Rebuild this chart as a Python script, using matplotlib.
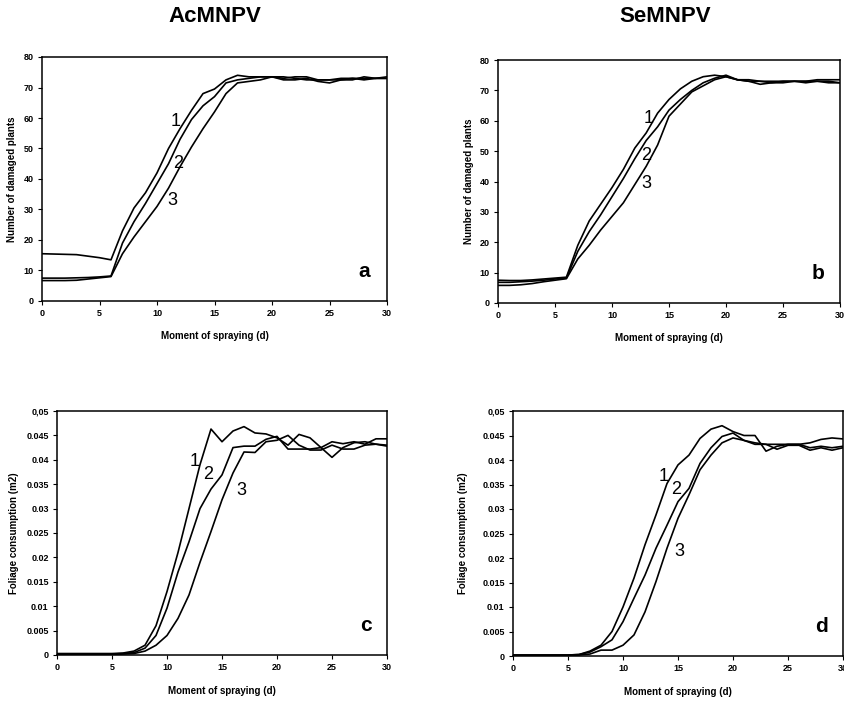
import matplotlib
matplotlib.use("Agg")
import matplotlib.pyplot as plt

plt.rcParams['font.family'] = ['Liberation Sans', 'DejaVu Sans']

# moment of spraying (days)
days = list(range(31))

# a: AcMNPV, number of damaged plants
a1 = [15.5, 15.4, 15.3, 15.2, 14.7, 14.2, 13.5, 23, 30.5, 35.5, 42, 50, 56.5, 62.5, 68, 69.5,
      72.5, 74, 73.5, 73.5, 73.5, 73, 73.5, 73.5, 72.5, 72.5, 73, 73, 73, 73, 73.5]
a2 = [7.5, 7.5, 7.5, 7.6, 7.7, 7.9, 8.2, 19, 26, 32, 38.5, 45, 53, 59.5, 64, 67,
      71.5, 72.5, 73, 73.5, 73.5, 72.5, 72.5, 73, 72, 71.5, 72.5, 73, 72.5, 73, 73]
a3 = [6.7, 6.7, 6.7, 6.8, 7.2, 7.6, 8.0, 15.5, 21, 26, 31, 37, 44, 50.5, 56.5, 62,
      68, 71.5, 72, 72.5, 73.5, 73.5, 73, 72.5, 72.5, 72.5, 72.5, 72.5, 73.5, 73, 73]

# b: SeMNPV, number of damaged plants
b1 = [7.5, 7.4, 7.4, 7.6, 7.9, 8.2, 8.5, 19, 27, 32.5, 38, 44, 51, 56, 62.5, 67,
      70.5, 73, 74.5, 75, 74.5, 73.5, 73.5, 73, 73, 73, 73, 73, 73.5, 73.5, 73.5]
b2 = [6.8, 6.8, 7.0, 7.2, 7.5, 7.9, 8.2, 17, 23.5, 29, 35, 41, 47.5, 53.5, 58, 63.5,
      67, 70, 72.5, 74, 75, 73.5, 73, 72, 72.5, 72.5, 73, 72.5, 73, 72.5, 72.5]
b3 = [5.8, 5.8, 6.0, 6.4, 7.0, 7.5, 8.0, 14.5, 19, 24, 28.5, 33, 39, 45, 52, 61.5,
      65.5, 69.5, 71.5, 73.5, 74.5, 73.5, 73, 73, 72.5, 73, 73, 73, 73, 73, 72.5]

# c: AcMNPV, foliage consumption (m2)
c1 = [0.0003, 0.0003, 0.0003, 0.0003, 0.0003, 0.0003, 0.0004, 0.0008, 0.002, 0.006, 0.013,
      0.021, 0.030, 0.039, 0.0463, 0.0437, 0.0459, 0.0468, 0.0455, 0.0453, 0.0445,
      0.0430, 0.0452, 0.0445, 0.0425, 0.0405, 0.0425, 0.0435, 0.0437, 0.0432, 0.0428]
c2 = [0.0002, 0.0002, 0.0002, 0.0002, 0.0002, 0.0002, 0.0003, 0.0005, 0.0014, 0.004, 0.0096,
      0.017, 0.0232, 0.030, 0.034, 0.0369, 0.0425, 0.0428, 0.0428, 0.0442, 0.0448,
      0.0422, 0.0422, 0.0422, 0.0425, 0.0437, 0.0433, 0.0437, 0.0432, 0.0443, 0.0443]
c3 = [0.0001, 0.0001, 0.0001, 0.0001, 0.0001, 0.0001, 0.0002, 0.0003, 0.0008, 0.002, 0.004,
      0.0075, 0.0123, 0.019, 0.0253, 0.0318, 0.0373, 0.0416, 0.0415, 0.0437, 0.044,
      0.045, 0.043, 0.042, 0.042, 0.043, 0.0422, 0.0422, 0.043, 0.0432, 0.043]

# d: SeMNPV, foliage consumption (m2)
d1 = [0.0002, 0.0002, 0.0002, 0.0002, 0.0002, 0.0002, 0.0003, 0.001, 0.0022, 0.005, 0.010,
      0.0159, 0.0227, 0.0288, 0.0352, 0.039, 0.041, 0.0444, 0.0463, 0.047, 0.0458,
      0.045, 0.045, 0.0418, 0.0428, 0.0432, 0.0432, 0.0425, 0.0428, 0.0425, 0.0428]
d2 = [0.0002, 0.0002, 0.0002, 0.0002, 0.0002, 0.0002, 0.0003, 0.0008, 0.0019, 0.0033, 0.007,
      0.0118, 0.0165, 0.022, 0.0267, 0.0315, 0.0342, 0.0393, 0.0425, 0.0448, 0.0455,
      0.044, 0.0432, 0.0432, 0.0422, 0.043, 0.043, 0.042, 0.0425, 0.042, 0.0425]
d3 = [0.0001, 0.0001, 0.0001, 0.0001, 0.0001, 0.0001, 0.0002, 0.0004, 0.0012, 0.0012, 0.0022,
      0.0043, 0.009, 0.0152, 0.022, 0.0281, 0.0329, 0.038, 0.041, 0.0435, 0.0445,
      0.044, 0.0435, 0.0432, 0.0432, 0.0432, 0.0432, 0.0435, 0.0442, 0.0445, 0.0443]

x_ticks = [0, 5, 10, 15, 20, 25, 30]
plants_ticks = [0, 10, 20, 30, 40, 50, 60, 70, 80]
foliage_ticks = [0, 0.005, 0.01, 0.015, 0.02, 0.025, 0.03, 0.035, 0.04, 0.045, 0.05]
foliage_labels = ['0', '0.005', '0.01', '0.015', '0.02', '0.025', '0.03', '0.035',
                  '0.04', '0.045', '0,05']

W, H = 844, 702
fig = plt.figure(figsize=(W / 100, H / 100), dpi=100)


def make_axes(px_left, px_top, px_right, px_bottom):
    return fig.add_axes([px_left / W, 1 - px_bottom / H,
                         (px_right - px_left) / W, (px_bottom - px_top) / H])


panels = [
    # axes box in pixels, series, ymax, curve label positions, letter, ylabel, ylabel x
    dict(box=(42, 57, 387, 301), series=(a1, a2, a3), ymax=80,
         labels=[(11.65, 58.7), (11.8, 45.2), (11.3, 33.1)], letter='a',
         ylabel='Number of damaged plants', ylx=-0.072),
    dict(box=(498, 60, 840, 303), series=(b1, b2, b3), ymax=80,
         labels=[(13.2, 60.9), (13.0, 48.7), (13.0, 39.2)], letter='b',
         ylabel='Number of damaged plants', ylx=-0.07),
    dict(box=(57, 411, 387, 655), series=(c1, c2, c3), ymax=0.05,
         labels=[(12.5, 0.0396), (13.75, 0.0369), (16.8, 0.0337)], letter='c',
         ylabel='Foliage consumption (m2)', ylx=-0.115),
    dict(box=(513, 411, 843, 656), series=(d1, d2, d3), ymax=0.05,
         labels=[(13.7, 0.0366), (14.8, 0.034), (15.1, 0.0213)], letter='d',
         ylabel='Foliage consumption (m2)', ylx=-0.135),
]

for p in panels:
    ax = make_axes(*p['box'])
    for ys in p['series']:
        ax.plot(days, ys, color='black', lw=1.2)
    ax.set_xlim(0, 30)
    ax.set_ylim(0, p['ymax'])
    ax.set_xticks(x_ticks)
    if p['ymax'] == 80:
        ax.set_yticks(plants_ticks)
    else:
        ax.set_yticks(foliage_ticks, foliage_labels)
    ax.tick_params(direction='out', length=3, width=0.8, labelsize=6.5, pad=3)
    for lab in ax.get_xticklabels() + ax.get_yticklabels():
        lab.set_fontweight('bold')
    for sp in ax.spines.values():
        sp.set_linewidth(1.1)
    for i, (lx, ly) in enumerate(p['labels']):
        ax.text(lx, ly, str(i + 1), fontsize=13, ha='center', va='center')
    ax.text(0.935, 0.12, p['letter'], transform=ax.transAxes, fontsize=15,
            fontweight='bold', ha='center', va='center')
    ax.set_xlabel('Moment of spraying (d)', fontsize=7, fontweight='bold')
    ax.xaxis.set_label_coords(0.5, -0.125)
    ax.set_ylabel(p['ylabel'], fontsize=7, fontweight='bold')
    ax.yaxis.set_label_coords(p['ylx'], 0.5)

fig.text(215 / W, 1 - 17 / H, 'AcMNPV', fontsize=16, fontweight='bold',
         ha='center', va='center')
fig.text(665 / W, 1 - 17 / H, 'SeMNPV', fontsize=16, fontweight='bold',
         ha='center', va='center')

fig.savefig('out.png', dpi=100)
